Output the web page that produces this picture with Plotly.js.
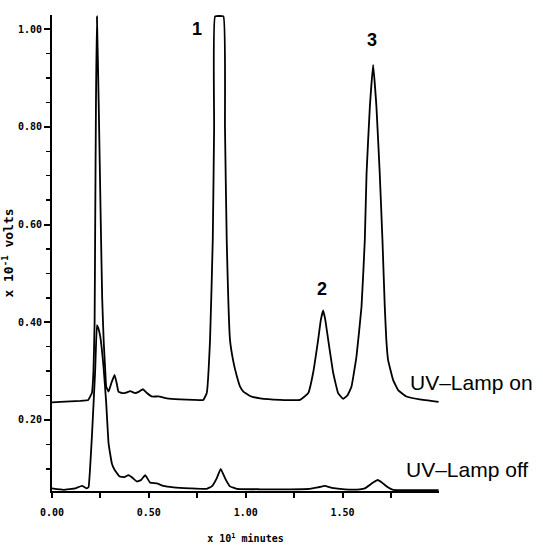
<!DOCTYPE html>
<html>
<head>
<meta charset="utf-8">
<script src="https://cdn.plot.ly/plotly-3.0.1.min.js"></script>
<style>html,body{margin:0;padding:0;background:#fff;}#chart{width:543px;height:547px;}</style>
</head>
<body>
<div id="chart"></div>
<script>
// time in units of 10 minutes, signal in units of 0.1 volts
var lampOnTime = [0.000,0.043,0.146,0.187,0.206,0.214,0.220,0.223,0.227,0.232,0.241,0.252,0.259,0.267,0.275,0.280,0.292,0.306,0.323,0.334,0.343,0.361,0.383,0.404,0.429,0.450,0.469,0.490,0.515,0.549,0.593,0.661,0.730,0.781,0.799,0.816,0.830,0.837,0.842,0.885,0.893,0.902,0.919,0.936,0.954,0.971,0.988,1.022,1.074,1.177,1.280,1.323,1.348,1.374,1.388,1.400,1.411,1.426,1.452,1.477,1.503,1.525,1.546,1.572,1.598,1.615,1.624,1.641,1.658,1.675,1.692,1.706,1.718,1.726,1.735,1.761,1.787,1.830,1.898,1.996];
var lampOnSignal = [0.236,0.237,0.239,0.241,0.255,0.300,0.400,0.600,0.850,1.026,0.850,0.600,0.450,0.360,0.300,0.268,0.258,0.275,0.292,0.275,0.258,0.255,0.256,0.259,0.255,0.258,0.263,0.255,0.248,0.248,0.244,0.242,0.241,0.241,0.255,0.364,0.569,0.800,1.026,1.026,0.800,0.569,0.364,0.320,0.290,0.268,0.258,0.249,0.244,0.241,0.241,0.255,0.296,0.364,0.405,0.424,0.405,0.364,0.296,0.255,0.243,0.250,0.268,0.330,0.432,0.569,0.705,0.841,0.927,0.841,0.705,0.569,0.432,0.364,0.323,0.282,0.261,0.248,0.242,0.237];

var lampOffTime = [0.000,0.060,0.120,0.155,0.180,0.189,0.197,0.206,0.223,0.232,0.239,0.249,0.266,0.280,0.292,0.309,0.323,0.349,0.373,0.395,0.414,0.438,0.460,0.481,0.506,0.541,0.575,0.627,0.713,0.799,0.825,0.851,0.871,0.893,0.919,0.954,1.074,1.228,1.331,1.373,1.409,1.445,1.512,1.589,1.615,1.658,1.682,1.703,1.734,1.761,1.996];
var lampOffSignal = [0.060,0.057,0.060,0.065,0.060,0.063,0.104,0.166,0.302,0.394,0.388,0.371,0.309,0.234,0.152,0.111,0.098,0.084,0.083,0.087,0.082,0.074,0.077,0.087,0.072,0.070,0.065,0.062,0.060,0.059,0.064,0.081,0.100,0.081,0.064,0.059,0.058,0.058,0.059,0.062,0.065,0.061,0.058,0.058,0.060,0.072,0.077,0.072,0.062,0.057,0.056];

var peakLabels = ['1','2','3'];
var traceLabels = ['UV\u2013Lamp on','UV\u2013Lamp off'];

var lineStyle = {color:'#000', width:1.8, shape:'spline', smoothing:0.3};
var data = [
  {x: lampOnTime, y: lampOnSignal, type:'scatter', mode:'lines', line: lineStyle, hoverinfo:'skip'},
  {x: lampOffTime, y: lampOffSignal, type:'scatter', mode:'lines', line: lineStyle, hoverinfo:'skip'}
];

var tickFont = {family:'DejaVu Sans Mono', size:10, color:'#000', weight:'bold'};
var layout = {
  width:543, height:547,
  margin:{l:52, r:104, t:15, b:56},
  paper_bgcolor:'#fff', plot_bgcolor:'#fff',
  showlegend:false,
  xaxis:{
    range:[0,1.998], showgrid:false, zeroline:false,
    showline:true, linecolor:'#000', linewidth:2,
    tickmode:'linear', tick0:0, dtick:0.5, tickformat:'.2f',
    ticks:'outside', ticklen:5, tickwidth:2, tickcolor:'#000',
    minor:{dtick:0.25, tick0:0, ticks:'outside', ticklen:5, tickwidth:2, tickcolor:'#000', showgrid:false},
    tickfont:tickFont, ticklabelstandoff:6,
    title:{text:'x 10<sup>1</sup> minutes', font:{family:'DejaVu Sans Mono', size:10, color:'#000', weight:'bold'}, standoff:18}
  },
  yaxis:{
    range:[0.0545,1.029], showgrid:false, zeroline:false,
    showline:true, linecolor:'#000', linewidth:2,
    tickmode:'linear', tick0:0, dtick:0.2, tickformat:'.2f',
    ticks:'outside', ticklen:6, tickwidth:2, tickcolor:'#000',
    minor:{dtick:0.05, tick0:0, ticks:'outside', ticklen:4, tickwidth:1.5, tickcolor:'#000', showgrid:false},
    tickfont:tickFont,
    title:{text:'x 10<sup>-1</sup> volts', font:{family:'DejaVu Sans Mono', size:13, color:'#000', weight:'bold'}, standoff:2}
  },
  annotations:[
    {x:0.749, y:1.000, text:peakLabels[0], showarrow:false, font:{family:'Liberation Sans', size:18, color:'#000', weight:'bold'}},
    {x:1.396, y:0.469, text:peakLabels[1], showarrow:false, font:{family:'Liberation Sans', size:18, color:'#000', weight:'bold'}},
    {x:1.654, y:0.978, text:peakLabels[2], showarrow:false, font:{family:'Liberation Sans', size:18, color:'#000', weight:'bold'}},
    {x:1.837, y:0.276, xanchor:'left', text:traceLabels[0], showarrow:false, font:{family:'Liberation Sans', size:21, color:'#000'}},
    {x:1.816, y:0.098, xanchor:'left', text:traceLabels[1], showarrow:false, font:{family:'Liberation Sans', size:21, color:'#000'}}
  ]
};
Plotly.newPlot('chart', data, layout, {staticPlot:true, displayModeBar:false});
</script>
</body>
</html>
